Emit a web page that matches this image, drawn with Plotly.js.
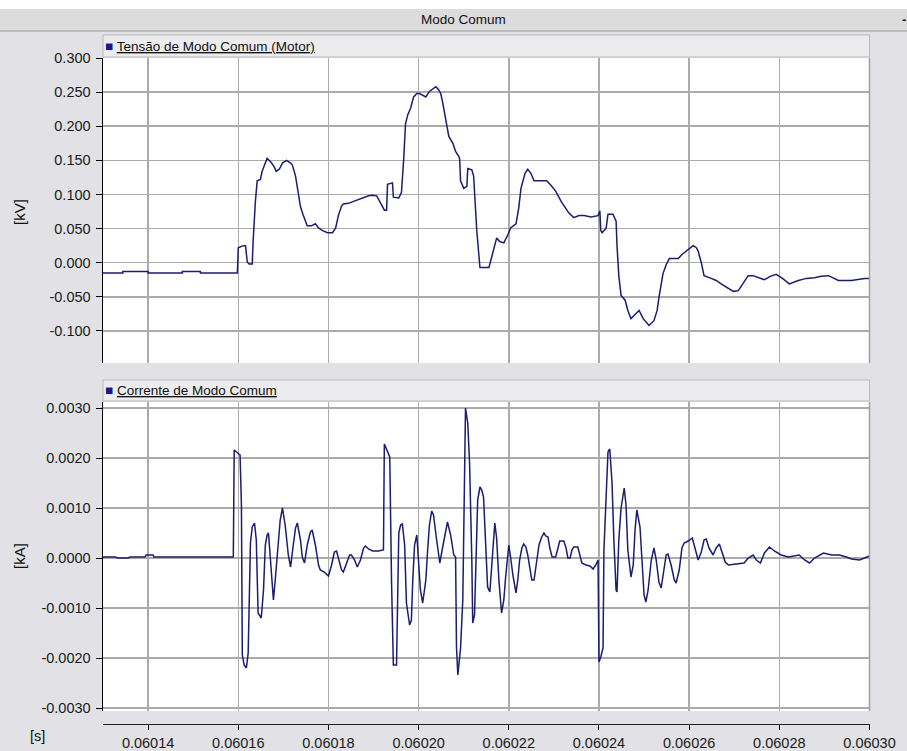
<!DOCTYPE html>
<html>
<head>
<meta charset="utf-8">
<script src="https://cdn.plot.ly/plotly-3.0.1.min.js"></script>
<style>
  html, body { margin: 0; padding: 0; background: #e2e2e6; }
  #chart { width: 907px; height: 751px; }
</style>
</head>
<body>
<div id="chart"></div>
<script>
// ---------- DATA ----------
const chartTitle = "Modo Comum";
const seriesNameV = "Tensão de Modo Comum (Motor)";
const seriesNameI = "Corrente de Modo Comum";
const unitV = "[kV]";
const unitI = "[kA]";
const unitT = "[s]";

const timeV = [
0.0601300,0.0601344,0.0601344,0.0601400,0.0601400,0.0601476,0.0601476,0.0601516,0.0601516,0.0601598,
0.0601600,0.0601611,0.0601616,0.0601620,0.0601624,0.0601631,0.0601633,0.0601636,0.0601638,0.0601642,
0.0601649,0.0601653,0.0601658,0.0601664,0.0601673,0.0601680,0.0601684,0.0601691,0.0601698,0.0601707,
0.0601716,0.0601720,0.0601727,0.0601731,0.0601738,0.0601744,0.0601753,0.0601762,0.0601771,0.0601778,
0.0601787,0.0601798,0.0601809,0.0601816,0.0601822,0.0601829,0.0601833,0.0601844,0.0601856,0.0601867,
0.0601878,0.0601889,0.0601898,0.0601907,0.0601916,0.0601924,0.0601929,0.0601931,0.0601942,0.0601944,
0.0601956,0.0601962,0.0601967,0.0601971,0.0601976,0.0601982,0.0601989,0.0601996,0.0602002,0.0602009,
0.0602016,0.0602024,0.0602031,0.0602038,0.0602044,0.0602049,0.0602053,0.0602060,0.0602067,0.0602076,
0.0602082,0.0602089,0.0602091,0.0602093,0.0602100,0.0602107,0.0602109,0.0602118,0.0602122,0.0602129,
0.0602136,0.0602156,0.0602164,0.0602173,0.0602180,0.0602189,0.0602198,0.0602204,0.0602216,0.0602222,
0.0602227,0.0602236,0.0602242,0.0602249,0.0602256,0.0602271,0.0602284,0.0602293,0.0602304,0.0602316,
0.0602327,0.0602333,0.0602344,0.0602356,0.0602367,0.0602382,0.0602398,0.0602402,0.0602404,0.0602407,
0.0602416,0.0602420,0.0602431,0.0602438,0.0602440,0.0602444,0.0602449,0.0602458,0.0602464,0.0602471,
0.0602480,0.0602489,0.0602498,0.0602511,0.0602522,0.0602529,0.0602533,0.0602538,0.0602542,0.0602549,
0.0602556,0.0602564,0.0602576,0.0602584,0.0602593,0.0602602,0.0602609,0.0602616,0.0602620,0.0602627,
0.0602633,0.0602649,0.0602660,0.0602671,0.0602684,0.0602698,0.0602709,0.0602720,0.0602731,0.0602742,
0.0602753,0.0602767,0.0602780,0.0602793,0.0602807,0.0602822,0.0602842,0.0602860,0.0602878,0.0602893,
0.0602909,0.0602931,0.0602960,0.0602989,0.0603000
];
const voltage = [
-0.015,-0.015,-0.013,-0.013,-0.015,-0.015,-0.013,-0.013,-0.015,-0.015,
0.022,0.025,0.025,0.001,-0.002,-0.002,0.032,0.069,0.090,0.120,
0.122,0.134,0.144,0.153,0.147,0.140,0.134,0.137,0.146,0.150,
0.146,0.143,0.127,0.109,0.082,0.070,0.054,0.054,0.057,0.051,
0.047,0.044,0.044,0.051,0.069,0.083,0.086,0.087,0.090,0.092,
0.095,0.098,0.099,0.098,0.087,0.077,0.077,0.115,0.117,0.096,
0.095,0.103,0.153,0.204,0.217,0.226,0.243,0.248,0.248,0.246,
0.243,0.251,0.255,0.258,0.254,0.248,0.236,0.210,0.185,0.175,
0.163,0.156,0.152,0.120,0.109,0.112,0.138,0.136,0.127,0.047,
-0.007,-0.007,0.013,0.036,0.031,0.029,0.041,0.051,0.057,0.080,
0.109,0.131,0.137,0.131,0.120,0.120,0.120,0.114,0.105,0.090,
0.079,0.073,0.066,0.069,0.069,0.067,0.069,0.076,0.047,0.044,
0.051,0.071,0.071,0.061,0.025,-0.019,-0.048,-0.055,-0.070,-0.082,
-0.076,-0.070,-0.082,-0.092,-0.085,-0.070,-0.051,-0.034,-0.016,-0.003,
0.006,0.006,0.006,0.012,0.017,0.022,0.025,0.022,0.017,0.000,
-0.019,-0.023,-0.026,-0.031,-0.036,-0.042,-0.041,-0.029,-0.019,-0.019,
-0.022,-0.025,-0.020,-0.017,-0.023,-0.031,-0.026,-0.023,-0.022,-0.020,
-0.019,-0.026,-0.026,-0.023,-0.023
];

const timeI = [
0.0601300,0.0601327,0.0601333,0.0601356,0.0601360,0.0601393,0.0601396,0.0601411,0.0601413,0.0601589,
0.0601591,0.0601600,0.0601604,0.0601607,0.0601609,0.0601613,0.0601618,0.0601622,0.0601624,0.0601627,
0.0601631,0.0601636,0.0601640,0.0601642,0.0601644,0.0601651,0.0601656,0.0601660,0.0601664,0.0601667,
0.0601671,0.0601678,0.0601682,0.0601689,0.0601693,0.0601698,0.0601704,0.0601711,0.0601716,0.0601722,
0.0601727,0.0601731,0.0601738,0.0601742,0.0601747,0.0601753,0.0601760,0.0601764,0.0601771,0.0601778,
0.0601782,0.0601791,0.0601800,0.0601807,0.0601813,0.0601818,0.0601824,0.0601829,0.0601833,0.0601840,
0.0601847,0.0601851,0.0601858,0.0601864,0.0601871,0.0601878,0.0601882,0.0601889,0.0601898,0.0601911,
0.0601922,0.0601924,0.0601933,0.0601936,0.0601940,0.0601944,0.0601951,0.0601956,0.0601960,0.0601964,
0.0601969,0.0601973,0.0601980,0.0601984,0.0601987,0.0601991,0.0601996,0.0602000,0.0602004,0.0602009,
0.0602016,0.0602020,0.0602024,0.0602029,0.0602033,0.0602040,0.0602047,0.0602053,0.0602060,0.0602064,
0.0602071,0.0602078,0.0602082,0.0602084,0.0602087,0.0602091,0.0602093,0.0602098,0.0602100,0.0602104,
0.0602109,0.0602113,0.0602118,0.0602120,0.0602124,0.0602127,0.0602131,0.0602136,0.0602140,0.0602144,
0.0602149,0.0602153,0.0602158,0.0602162,0.0602169,0.0602173,0.0602178,0.0602184,0.0602189,0.0602193,
0.0602200,0.0602204,0.0602209,0.0602216,0.0602220,0.0602224,0.0602229,0.0602233,0.0602238,0.0602242,
0.0602247,0.0602251,0.0602256,0.0602262,0.0602267,0.0602273,0.0602278,0.0602282,0.0602287,0.0602291,
0.0602296,0.0602304,0.0602309,0.0602313,0.0602322,0.0602327,0.0602331,0.0602336,0.0602340,0.0602344,
0.0602353,0.0602358,0.0602362,0.0602371,0.0602380,0.0602387,0.0602393,0.0602398,0.0602400,0.0602404,
0.0602409,0.0602411,0.0602416,0.0602420,0.0602424,0.0602429,0.0602433,0.0602438,0.0602440,0.0602444,
0.0602449,0.0602456,0.0602460,0.0602464,0.0602471,0.0602476,0.0602480,0.0602484,0.0602491,0.0602496,
0.0602500,0.0602504,0.0602509,0.0602516,0.0602522,0.0602527,0.0602533,0.0602538,0.0602542,0.0602549,
0.0602553,0.0602560,0.0602567,0.0602571,0.0602578,0.0602584,0.0602589,0.0602598,0.0602607,0.0602613,
0.0602620,0.0602627,0.0602633,0.0602638,0.0602644,0.0602653,0.0602660,0.0602667,0.0602673,0.0602680,
0.0602687,0.0602704,0.0602722,0.0602731,0.0602742,0.0602749,0.0602758,0.0602767,0.0602778,0.0602789,
0.0602804,0.0602820,0.0602833,0.0602844,0.0602856,0.0602867,0.0602878,0.0602898,0.0602916,0.0602933,
0.0602949,0.0602960,0.0602978,0.0602991,0.0603000
];
const current = [
0.00002,0.00002,0.00000,0.00000,0.00002,0.00002,0.00006,0.00006,0.00002,0.00002,
0.00216,0.00210,0.00206,0.00106,-0.00194,-0.00214,-0.00220,-0.00190,-0.00084,0.00030,
0.00062,0.00070,0.00036,-0.00064,-0.00110,-0.00120,-0.00064,0.00026,0.00046,0.00050,
-0.00004,-0.00084,-0.00044,0.00036,0.00076,0.00100,0.00066,0.00006,-0.00018,0.00026,
0.00060,0.00070,0.00036,0.00002,-0.00010,0.00026,0.00052,0.00056,0.00026,-0.00014,
-0.00024,-0.00028,-0.00036,-0.00014,0.00012,0.00014,-0.00004,-0.00024,-0.00028,-0.00010,
0.00006,0.00006,-0.00004,-0.00018,-0.00004,0.00020,0.00024,0.00018,0.00014,0.00014,
0.00016,0.00228,0.00206,0.00202,-0.00050,-0.00214,-0.00214,0.00050,0.00066,0.00068,
0.00026,-0.00090,-0.00134,-0.00124,-0.00044,0.00026,0.00046,-0.00004,-0.00064,-0.00090,
-0.00044,0.00016,0.00066,0.00094,0.00086,0.00036,-0.00010,0.00020,0.00056,0.00072,
0.00046,0.00006,0.00002,-0.00178,-0.00234,-0.00204,-0.00180,-0.00084,0.00050,0.00300,
0.00270,0.00190,-0.00004,-0.00130,-0.00114,-0.00024,0.00116,0.00142,0.00136,0.00122,
0.00036,-0.00058,-0.00068,-0.00024,0.00070,0.00040,-0.00044,-0.00110,-0.00084,-0.00038,
0.00026,0.00002,-0.00034,-0.00070,-0.00044,-0.00004,0.00020,0.00028,0.00022,0.00006,
-0.00024,-0.00044,-0.00044,-0.00004,0.00026,0.00042,0.00050,0.00044,0.00042,0.00020,
0.00002,0.00002,0.00020,0.00034,0.00034,0.00020,0.00000,0.00000,0.00016,0.00022,
0.00022,0.00006,-0.00010,-0.00014,-0.00016,-0.00022,-0.00014,-0.00004,-0.00208,-0.00198,
-0.00180,0.00016,0.00116,0.00212,0.00218,0.00150,0.00036,-0.00064,-0.00068,0.00036,
0.00100,0.00140,0.00106,0.00016,-0.00038,-0.00014,0.00056,0.00096,0.00062,-0.00014,
-0.00074,-0.00088,-0.00064,-0.00004,0.00020,-0.00004,-0.00048,-0.00060,-0.00034,0.00006,
0.00008,-0.00014,-0.00044,-0.00050,-0.00024,0.00020,0.00030,0.00034,0.00040,0.00020,
-0.00004,0.00012,0.00036,0.00038,0.00020,0.00006,0.00020,0.00028,0.00012,-0.00008,
-0.00014,-0.00012,-0.00010,0.00000,0.00006,-0.00004,-0.00010,0.00010,0.00022,0.00014,
0.00006,0.00002,0.00004,0.00006,-0.00004,-0.00010,0.00000,0.00010,0.00006,0.00006,
0.00002,-0.00002,-0.00004,0.00000,0.00004
];

const timeTicks = [0.06014,0.06016,0.06018,0.06020,0.06022,0.06024,0.06026,0.06028,0.06030];
const timeTickText = ["0.06014","0.06016","0.06018","0.06020","0.06022","0.06024","0.06026","0.06028","0.06030"];
const vTicks = [-0.1,-0.05,0,0.05,0.1,0.15,0.2,0.25,0.3];
const vTickText = ["-0.100","-0.050","0.000","0.050","0.100","0.150","0.200","0.250","0.300"];
const iTicks = [-0.003,-0.002,-0.001,0,0.001,0.002,0.003];
const iTickText = ["-0.0030","-0.0020","-0.0010","0.0000","0.0010","0.0020","0.0030"];

// ---------- LAYOUT HELPERS (pixel -> paper) ----------
const W = 907, H = 751;
const px = x => x / W;
const py = y => 1 - y / H;

const lineColor = "#1c1c70";
const gridColor = "#ababab";
const bg = "#e2e2e6";
const font = "Arial, 'Liberation Sans', sans-serif";
const tickFont = { family: font, size: 14.5, color: "#1a1a1a" };
const textFont = { family: font, size: 13.5, color: "#111" };

const traces = [
  { x: timeV, y: voltage, type: "scatter", mode: "lines", name: seriesNameV,
    xaxis: "x", yaxis: "y", line: { color: lineColor, width: 1.5 }, showlegend: false },
  { x: timeI, y: current, type: "scatter", mode: "lines", name: seriesNameI,
    xaxis: "x2", yaxis: "y2", line: { color: lineColor, width: 1.5 }, showlegend: false }
];

const xCommon = {
  range: [0.06013, 0.06030],
  domain: [px(103), px(869.5)],
  tickvals: timeTicks,
  showgrid: true, gridcolor: gridColor, gridwidth: 1.5,
  zeroline: false
};

const yCommon = {
  ticks: "outside", ticklen: 6, tickcolor: "#000", tickwidth: 1,
  showline: true, linecolor: "#000", linewidth: 1.5,
  showgrid: true, gridcolor: gridColor, gridwidth: 1.5, zeroline: false,
  tickfont: tickFont, ticklabelstandoff: 2
};

const layout = {
  width: W, height: H,
  margin: { l: 0, r: 0, t: 0, b: 0 },
  paper_bgcolor: bg,
  plot_bgcolor: "#ffffff",
  font: textFont,
  showlegend: false,
  xaxis: Object.assign({}, xCommon, {
    anchor: "y", showticklabels: false, ticks: "", showline: false
  }),
  yaxis: Object.assign({}, yCommon, {
    domain: [py(363), py(58)],
    range: [-0.147, 0.3],
    tickvals: vTicks, ticktext: vTickText,
    anchor: "x"
  }),
  xaxis2: Object.assign({}, xCommon, {
    anchor: "free", position: py(724),
    ticktext: timeTickText, ticks: "outside", ticklen: 5, tickcolor: "#000",
    showline: true, linecolor: "#222", linewidth: 1.2,
    tickfont: tickFont
  }),
  yaxis2: Object.assign({}, yCommon, {
    domain: [py(711), py(402)],
    range: [-0.00306, 0.00312],
    tickvals: iTicks, ticktext: iTickText,
    anchor: "x2"
  }),
  shapes: [
    { type: "rect", xref: "paper", yref: "paper", x0: 0, x1: 1, y0: py(9), y1: 1,
      fillcolor: "#ffffff", line: { width: 0 }, layer: "below" },
    { type: "rect", xref: "paper", yref: "paper", x0: 0, x1: 1, y0: py(31), y1: py(9),
      fillcolor: "#dcdcdc", line: { width: 0 }, layer: "below" },
    { type: "line", xref: "paper", yref: "paper", x0: 0, x1: 1, y0: py(31), y1: py(31),
      line: { color: "#9a9a9a", width: 1 } },
    { type: "rect", xref: "paper", yref: "paper", x0: px(103), x1: px(869.5), y0: py(57), y1: py(35),
      fillcolor: "#ececee", line: { color: "#b8b8b8", width: 1 }, layer: "below" },
    { type: "rect", xref: "paper", yref: "paper", x0: px(103), x1: px(869.5), y0: py(401), y1: py(380),
      fillcolor: "#ececee", line: { color: "#b8b8b8", width: 1 }, layer: "below" },
    { type: "line", xref: "paper", yref: "paper", x0: px(869.5), x1: px(869.5), y0: py(363), y1: py(58),
      line: { color: "#a0a0a0", width: 1.5 } },
    { type: "line", xref: "paper", yref: "paper", x0: px(869.5), x1: px(869.5), y0: py(711), y1: py(402),
      line: { color: "#a0a0a0", width: 1.5 } }
  ],
  annotations: [
    { text: chartTitle, xref: "paper", yref: "paper", x: px(463), y: py(20),
      xanchor: "center", yanchor: "middle", showarrow: false, font: textFont },
    { text: "<b>-</b>", xref: "paper", yref: "paper", x: px(904), y: py(20),
      xanchor: "center", yanchor: "middle", showarrow: false,
      font: { family: font, size: 13, color: "#111" } },
    { text: "<span style='color:#1a1a88'>■</span> <u>" + seriesNameV + "</u>",
      xref: "paper", yref: "paper", x: px(103), y: py(46),
      xanchor: "left", yanchor: "middle", showarrow: false, font: textFont },
    { text: "<span style='color:#1a1a88'>■</span> <u>" + seriesNameI + "</u>",
      xref: "paper", yref: "paper", x: px(103), y: py(390),
      xanchor: "left", yanchor: "middle", showarrow: false, font: textFont },
    { text: unitV, xref: "paper", yref: "paper", x: px(19), y: py(212),
      xanchor: "center", yanchor: "middle", textangle: -90, showarrow: false,
      font: { family: font, size: 15, color: "#111" } },
    { text: unitI, xref: "paper", yref: "paper", x: px(19), y: py(556),
      xanchor: "center", yanchor: "middle", textangle: -90, showarrow: false,
      font: { family: font, size: 15, color: "#111" } },
    { text: unitT, xref: "paper", yref: "paper", x: px(37), y: py(736),
      xanchor: "center", yanchor: "middle", showarrow: false,
      font: { family: font, size: 14.5, color: "#111" } }
  ]
};

Plotly.newPlot("chart", traces, layout, { displayModeBar: false, staticPlot: true });
</script>
</body>
</html>
